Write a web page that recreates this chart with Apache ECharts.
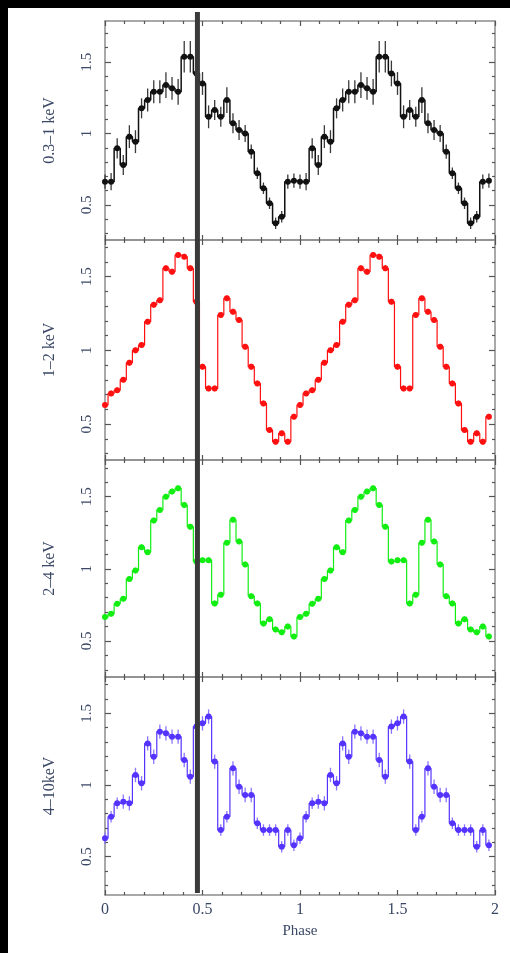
<!DOCTYPE html>
<html>
<head>
<meta charset="utf-8">
<script src="https://cdn.jsdelivr.net/npm/echarts@6/dist/echarts.min.js"></script>
<style>
html,body{margin:0;padding:0;background:#000;width:510px;height:953px;overflow:hidden;}
#c{position:absolute;left:8px;top:8px;width:502px;height:945px;background:#fff;}
</style>
</head>
<body>
<div id="c"></div>
<script>
// ---- data: one pulse cycle, 32 phase bins (plotted twice, phase 0-2) ----
const nBins = 32;
const cycles = 2;
const bandNames = ['0.3\u20131 keV', '1\u20132 keV', '2\u20134 keV', '4\u201310keV'];
const soft = [0.663,0.663,0.896,0.78,0.978,0.943,1.176,1.234,1.292,1.292,1.339,1.316,1.292,1.537,1.537,1.42,
              1.35,1.117,1.164,1.117,1.234,1.071,1.024,1.0,0.873,0.722,0.617,0.512,0.372,0.418,0.663,0.67];
const softErr = [0.05,0.06,0.07,0.07,0.08,0.08,0.07,0.08,0.08,0.08,0.09,0.08,0.09,0.11,0.11,0.09,
                 0.08,0.08,0.07,0.07,0.09,0.07,0.07,0.06,0.05,0.04,0.04,0.04,0.04,0.04,0.05,0.05];
const mid = [0.629,0.708,0.73,0.80,0.916,1.0,1.036,1.195,1.31,1.34,1.557,1.534,1.647,1.636,1.557,1.33,
             0.889,0.742,0.742,1.24,1.353,1.262,1.206,1.025,0.889,0.776,0.64,0.459,0.38,0.437,0.38,0.55];
const midErr = [0.02,0.02,0.02,0.02,0.02,0.02,0.02,0.02,0.02,0.02,0.02,0.02,0.02,0.02,0.02,0.02,
                0.02,0.02,0.02,0.02,0.02,0.02,0.02,0.02,0.02,0.02,0.02,0.02,0.02,0.02,0.02,0.02];
const hard = [0.665,0.688,0.757,0.792,0.93,0.988,1.15,1.115,1.335,1.408,1.5,1.535,1.558,1.442,1.292,1.05,
              1.06,1.06,0.76,0.82,1.18,1.34,1.19,1.03,0.81,0.76,0.62,0.65,0.58,0.56,0.60,0.53];
const hardErr = [0.02,0.02,0.02,0.02,0.02,0.02,0.02,0.02,0.02,0.02,0.02,0.02,0.02,0.02,0.02,0.02,
                 0.02,0.02,0.02,0.02,0.02,0.02,0.02,0.02,0.02,0.02,0.02,0.02,0.02,0.02,0.02,0.02];
const vhard = [0.628,0.779,0.872,0.884,0.872,1.07,1.012,1.29,1.197,1.372,1.36,1.337,1.337,1.174,1.058,1.407,
               1.43,1.477,1.163,0.686,0.779,1.116,0.988,0.93,0.93,0.733,0.686,0.686,0.686,0.57,0.686,0.58];
const vhardErr = [0.04,0.04,0.04,0.05,0.05,0.05,0.05,0.05,0.05,0.05,0.05,0.05,0.05,0.05,0.05,0.05,
                  0.05,0.05,0.05,0.04,0.04,0.05,0.05,0.05,0.05,0.04,0.04,0.04,0.04,0.04,0.04,0.04];
const markPhase = 0.474;
const xTicks = [0, 0.5, 1, 1.5, 2];
const yMajor = [0.5, 1, 1.5];
const yMinor = [0.3,0.4,0.6,0.7,0.8,0.9,1.1,1.2,1.3,1.4,1.6,1.7];

// ---- styles / layout ----
const bands = [
  {vals: soft,  errs: softErr,  color: '#111111', err: '#3a3a3a', lw: 1.5},
  {vals: mid,   errs: midErr,   color: '#ff1010', err: '#ff6060', lw: 1.2},
  {vals: hard,  errs: hardErr,  color: '#12ee12', err: '#60f060', lw: 1.2},
  {vals: vhard, errs: vhardErr, color: '#5533ff', err: '#8877ff', lw: 1.2}
];
const grids = [
  {top: 13,  height: 219, min: 0.255, max: 1.787},
  {top: 232, height: 220, min: 0.256, max: 1.749},
  {top: 452, height: 217, min: 0.25,  max: 1.754},
  {top: 669, height: 218, min: 0.233, max: 1.753}
];
const FONT = 'Liberation Serif';
const txt = '#3b4866';
const frame = {show: true, lineStyle: {color: '#8c8c8c', width: 1.5}};
const tickStyle = {color: '#555', width: 1.2};

const option = {
  animation: false,
  backgroundColor: '#fff',
  grid: [], xAxis: [], yAxis: [], series: []
};

grids.forEach((g, k) => {
  option.grid.push({left: 97, right: 15, top: g.top, height: g.height});
  const last = k === grids.length - 1;
  // bottom x axis
  option.xAxis.push({
    type: 'value', gridIndex: k, min: 0, max: 2, interval: 0.5, position: 'bottom',
    axisLine: frame,
    axisTick: {show: true, inside: true, length: 5, lineStyle: tickStyle},
    minorTick: {show: true, splitNumber: 5, length: 3, lineStyle: tickStyle},
    splitLine: {show: false},
    axisLabel: {show: last, margin: 7, fontFamily: FONT, fontSize: 16, color: txt,
      formatter: v => xTicks.includes(v) ? String(v) : ''},
    name: last ? 'Phase' : '', nameLocation: 'middle', nameGap: 29,
    nameTextStyle: {fontFamily: FONT, fontSize: 15, color: txt}
  });
  // top x axis (ticks only)
  option.xAxis.push({
    type: 'value', gridIndex: k, min: 0, max: 2, interval: 0.5, position: 'top',
    axisLine: frame,
    axisTick: {show: true, inside: true, length: 5, lineStyle: tickStyle},
    minorTick: {show: true, splitNumber: 5, length: 3, lineStyle: tickStyle},
    splitLine: {show: false}, axisLabel: {show: false}
  });
  const yBase = {type: 'value', gridIndex: k, min: g.min, max: g.max, splitLine: {show: false}};
  // left y axis with labels and major ticks
  option.yAxis.push(Object.assign({}, yBase, {
    position: 'left', axisLine: frame,
    axisTick: {show: true, inside: true, length: 6, lineStyle: tickStyle, customValues: yMajor},
    axisLabel: {show: true, rotate: 90, margin: 10, fontFamily: FONT, fontSize: 15, color: txt,
      customValues: yMajor},
    name: bandNames[k], nameLocation: 'middle', nameGap: 47,
    nameTextStyle: {fontFamily: FONT, fontSize: 16, color: txt}
  }));
  // left minor ticks
  option.yAxis.push(Object.assign({}, yBase, {
    position: 'left', axisLine: {show: false},
    axisTick: {show: true, inside: true, length: 3, lineStyle: tickStyle, customValues: yMinor},
    axisLabel: {show: false}
  }));
  // right major
  option.yAxis.push(Object.assign({}, yBase, {
    position: 'right', axisLine: frame,
    axisTick: {show: true, inside: true, length: 6, lineStyle: tickStyle, customValues: yMajor},
    axisLabel: {show: false}
  }));
  // right minor
  option.yAxis.push(Object.assign({}, yBase, {
    position: 'right', axisLine: {show: false},
    axisTick: {show: true, inside: true, length: 3, lineStyle: tickStyle, customValues: yMinor},
    axisLabel: {show: false}
  }));

  const b = bands[k];
  const data = [];
  for (let c = 0; c < cycles; c++) {
    for (let i = 0; i < nBins; i++) {
      data.push([c + i / nBins, b.vals[i], b.errs[i]]);
    }
  }
  // error bars
  option.series.push({
    type: 'custom', xAxisIndex: 2 * k, yAxisIndex: 4 * k, z: 2,
    data: data,
    renderItem: (params, api) => {
      const x = api.value(0), v = api.value(1), e = api.value(2);
      const lo = api.coord([x, v - e]);
      const hi = api.coord([x, v + e]);
      return {type: 'line', shape: {x1: lo[0], y1: lo[1], x2: hi[0], y2: hi[1]},
        style: {stroke: b.err, lineWidth: 1.3}};
    }
  });
  // step profile with markers
  option.series.push({
    type: 'line', xAxisIndex: 2 * k, yAxisIndex: 4 * k, z: 3,
    step: 'middle',
    data: data.map(d => [d[0], d[1]]),
    symbol: 'circle', symbolSize: 6,
    itemStyle: {color: b.color},
    lineStyle: {color: b.color, width: b.lw},
    silent: true
  });
});

// overlay grid for the vertical phase marker
const gi = grids.length;
option.grid.push({left: 97, right: 15, top: 4, height: 881});
option.xAxis.push({type: 'value', gridIndex: gi, min: 0, max: 2, show: false});
option.yAxis.push({type: 'value', gridIndex: gi, min: 0, max: 1, show: false});
option.series.push({
  type: 'line', xAxisIndex: option.xAxis.length - 1, yAxisIndex: option.yAxis.length - 1,
  data: [[markPhase, 0], [markPhase, 1]], symbol: 'none', z: 10,
  lineStyle: {color: '#3a3a3a', width: 5}, silent: true
});

const chart = echarts.init(document.getElementById('c'), null, {renderer: 'canvas'});
chart.setOption(option);
</script>
</body>
</html>
